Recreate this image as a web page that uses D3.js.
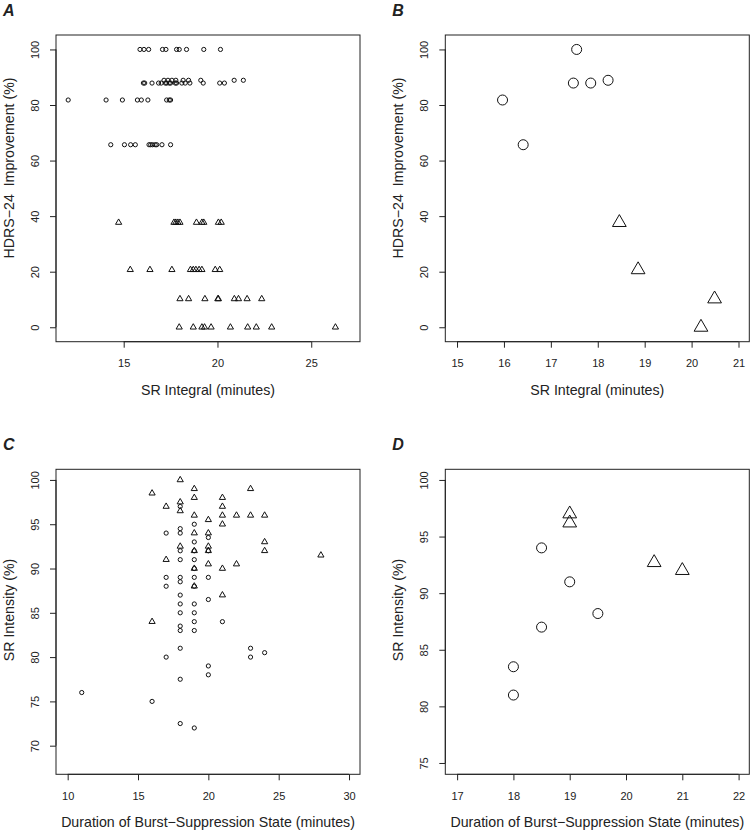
<!DOCTYPE html>
<html><head><meta charset="utf-8">
<script src="https://cdn.jsdelivr.net/npm/d3@7"></script>
<style>body{margin:0;background:#fff}svg{display:block}text{white-space:pre}</style>
</head><body>
<svg id="c" width="752" height="832"></svg>
<script>
// ---- DATA ----
// Panel A: SR integral (min) vs HDRS-24 improvement (%)
const aResponders = [
 [15.87,100],[16.08,100],[16.33,100],[17.07,100],[17.25,100],[17.82,100],[17.96,100],[18.35,100],[19.27,100],[20.16,100],
 [17.15,88.9],[17.36,88.9],[17.57,88.9],[17.78,88.9],[18.17,88.9],[18.46,88.9],[19.11,88.9],[20.89,88.9],[21.38,88.9],
 [16.05,87.9],[16.12,87.9],[16.51,87.9],[16.86,87.9],[17.0,87.9],[17.22,87.9],[17.29,87.9],[17.43,87.9],[17.5,87.9],
 [17.75,87.9],[17.82,87.9],[18.1,87.9],[18.28,87.9],[18.53,87.9],[19.24,87.9],[20.12,87.9],[20.37,87.9],
 [12.04,81.8],[14.06,81.8],[14.93,81.8],[15.73,81.8],[15.94,81.8],[16.29,81.8],[17.29,81.8],[17.43,81.8],[17.5,81.8],
 [14.31,65.7],[15.04,65.7],[15.37,65.7],[15.62,65.7],[16.35,65.7],[16.44,65.7],[16.54,65.7],[16.68,65.7],[16.76,65.7],[17.04,65.7],[17.5,65.7]
];
const aNonResponders = [
 [14.73,37.7],[17.68,37.7],[17.78,37.7],[17.89,37.7],[18.0,37.7],[18.88,37.7],[19.17,37.7],[19.27,37.7],[20.05,37.7],[20.2,37.7],
 [15.35,20.7],[16.4,20.7],[17.57,20.7],[18.56,20.7],[18.71,20.7],[18.85,20.7],[19.02,20.7],[19.17,20.7],[19.88,20.7],[20.12,20.7],
 [18.0,10.2],[18.46,10.2],[19.33,10.2],[20.02,10.2],[20.05,10.2],[20.9,10.2],[21.12,10.2],[21.58,10.2],[22.36,10.2],
 [17.96,0],[18.71,0],[19.17,0],[19.31,0],[19.66,0],[20.69,0],[21.61,0],[22.07,0],[22.89,0],[26.29,0]
];
// Panel B: patient means
const bResponders = [[15.97,81.8],[16.41,65.7],[17.55,100],[17.48,87.9],[17.85,87.9],[18.22,88.9]];
const bNonResponders = [[18.46,37.7],[18.86,20.7],[20.49,10.2],[20.2,0]];
// Panel C: burst-suppression duration (min) vs SR intensity (%)
const cResponders = [
 [17,94],[18,94.5],[18,94],[18,92],[18,91],[18,89],[18,88.5],[18,87],[18,86],[18,85],[17,89],[17,88],
 [19,95],[19,93],[19,92],[19,91],[19,90],[19,89],[19,88],[19,86],[19,85],[20,93.5],[20,92],[20,89],[20,86.5],
 [18,83.5],[18,83],[19,84],[19,83],[21,84],[18,81],[17,80],[20,79],[20,78],[18,77.5],
 [23,81],[23,80],[24,80.5],[11,76],[16,75],[18,72.5],[19,72],[18,97]
];
const cNonResponders = [
 [16,98.5],[17,97],[18,100],[18,97.5],[18,96.5],[19,99],[19,98],[19,96],[19,94],[19,92],[19,90],[19,88],
 [18,92.5],[17,91],[20,95.5],[20,94],[20,92.5],[20,92],[20,90.5],[21,98],[21,97],[21,96],[21,95],[21,90],[21,87],
 [22,96],[22,90.5],[23,99],[23,96],[24,96],[24,93],[24,92],[28,91.5],[16,84]
];
// Panel D: patient means
const dResponders = [[18.5,94],[19,91],[19.5,88.2],[18.5,87],[18,83.5],[18,81]];
const dNonResponders = [[19,97],[19,96.2],[20.5,92.7],[21,92]];

const ticksAx = [15,20,25], ticksAy = [0,20,40,60,80,100];
const ticksBx = [15,16,17,18,19,20,21], ticksBy = [0,20,40,60,80,100];
const ticksCx = [10,15,20,25,30], ticksCy = [70,75,80,85,90,95,100];
const ticksDx = [17,18,19,20,21,22], ticksDy = [75,80,85,90,95,100];

const titleHDRS = "HDRS\u221224  Improvement (%)";
const titleSRInt = "SR Integral (minutes)";
const titleSRIntens = "SR Intensity (%)";
const titleDur = "Duration of Burst\u2212Suppression State (minutes)";

// ---- DRAW ----
const svg = d3.select("#c");
const FONT = "'Liberation Sans', Arial, Helvetica, sans-serif";

function triPath(s){
  const r = 1.5551*s, xc = 1.3468*s, yc = 0.7776*s;
  return `M0,${-r}L${xc},${yc}L${-xc},${yc}Z`;
}

function panel(o){
  const g = svg.append("g");
  const x = d3.scaleLinear().domain(o.xd).range([o.left, o.right]);
  const y = d3.scaleLinear().domain(o.yd).range([o.bottom, o.top]);
  g.append("rect").attr("x", o.left).attr("y", o.top)
    .attr("width", o.right-o.left).attr("height", o.bottom-o.top)
    .attr("fill","none").attr("stroke","#222").attr("stroke-width",1);
  const xa = d3.axisBottom(x).tickValues(o.xt).tickSize(6).tickSizeOuter(0).tickPadding(0).tickFormat(d3.format("d"));
  const gx = g.append("g").attr("transform",`translate(0,${o.bottom})`).call(xa);
  gx.select(".domain").attr("d", `M${x(o.xt[0])},0H${x(o.xt[o.xt.length-1])}`).attr("stroke","#222");
  gx.selectAll(".tick line").attr("stroke","#222");
  gx.selectAll(".tick text").attr("y", 25.5).attr("dy", null)
    .attr("font-family", FONT).attr("font-size", 11).attr("fill","#222");
  const ya = d3.axisLeft(y).tickValues(o.yt).tickSize(6).tickSizeOuter(0).tickFormat(d3.format("d"));
  const gy = g.append("g").attr("transform",`translate(${o.left},0)`).call(ya);
  gy.select(".domain").attr("d", `M0,${y(o.yt[0])}V${y(o.yt[o.yt.length-1])}`).attr("stroke","#222");
  gy.selectAll(".tick line").attr("stroke","#222");
  gy.selectAll(".tick text").attr("x", null).attr("dy", null)
    .attr("transform","translate(-17,0) rotate(-90)")
    .attr("text-anchor","middle")
    .attr("font-family", FONT).attr("font-size", 11).attr("fill","#222");
  g.selectAll(".domain").attr("fill","none");
  g.append("text").attr("x",(o.left+o.right)/2).attr("y", o.bottom+53)
    .attr("text-anchor","middle").attr("font-family",FONT).attr("font-size",14.2).attr("fill","#222").text(o.xTitle);
  g.append("text").attr("transform",`translate(${o.left-42.5},${o.yTitleC}) rotate(-90)`)
    .attr("text-anchor","middle").attr("font-family",FONT).attr("font-size",14.2).attr("fill","#222").text(o.yTitle);
  g.append("text").attr("x", o.left-53).attr("y", o.top-19)
    .attr("font-family",FONT).attr("font-size",16).attr("font-weight","bold").attr("font-style","italic").attr("fill","#222").text(o.label);
  g.append("g").selectAll("circle").data(o.circ).join("circle")
    .attr("cx", d=>x(d[0])).attr("cy", d=>y(d[1])).attr("r", o.cr)
    .attr("fill","none").attr("stroke","#111").attr("stroke-width",1);
  g.append("g").selectAll("path").data(o.tri).join("path")
    .attr("transform", d=>`translate(${x(d[0])},${y(d[1])})`)
    .attr("d", triPath(o.ts))
    .attr("fill","none").attr("stroke","#111").attr("stroke-width",1);
}

panel({label:"A", left:56, right:360, top:35, bottom:341.7, xd:[11.39,27.6], yd:[-5.2,105.2],
  xt:ticksAx, yt:ticksAy, xTitle:titleSRInt, yTitle:titleHDRS, yTitleC:168,
  circ:aResponders, tri:aNonResponders, cr:2.1, ts:2.3});
panel({label:"B", left:445.3, right:749.3, top:35, bottom:341.7, xd:[14.75,21.23], yd:[-5.2,105.2],
  xt:ticksBx, yt:ticksBy, xTitle:titleSRInt, yTitle:titleHDRS, yTitleC:168,
  circ:bResponders, tri:bNonResponders, cr:5, ts:5.1});
panel({label:"C", left:56, right:360, top:469.3, bottom:774.3, xd:[9.17,30.78], yd:[66.77,101.2],
  xt:ticksCx, yt:ticksCy, xTitle:titleDur, yTitle:titleSRIntens, yTitleC:610,
  circ:cResponders, tri:cNonResponders, cr:2.1, ts:2.3});
panel({label:"D", left:445.3, right:749.3, top:469.3, bottom:774.3, xd:[16.79,22.19], yd:[74.0,100.94],
  xt:ticksDx, yt:ticksDy, xTitle:titleDur, yTitle:titleSRIntens, yTitleC:610,
  circ:dResponders, tri:dNonResponders, cr:5, ts:5.1});
</script>
</body></html>
